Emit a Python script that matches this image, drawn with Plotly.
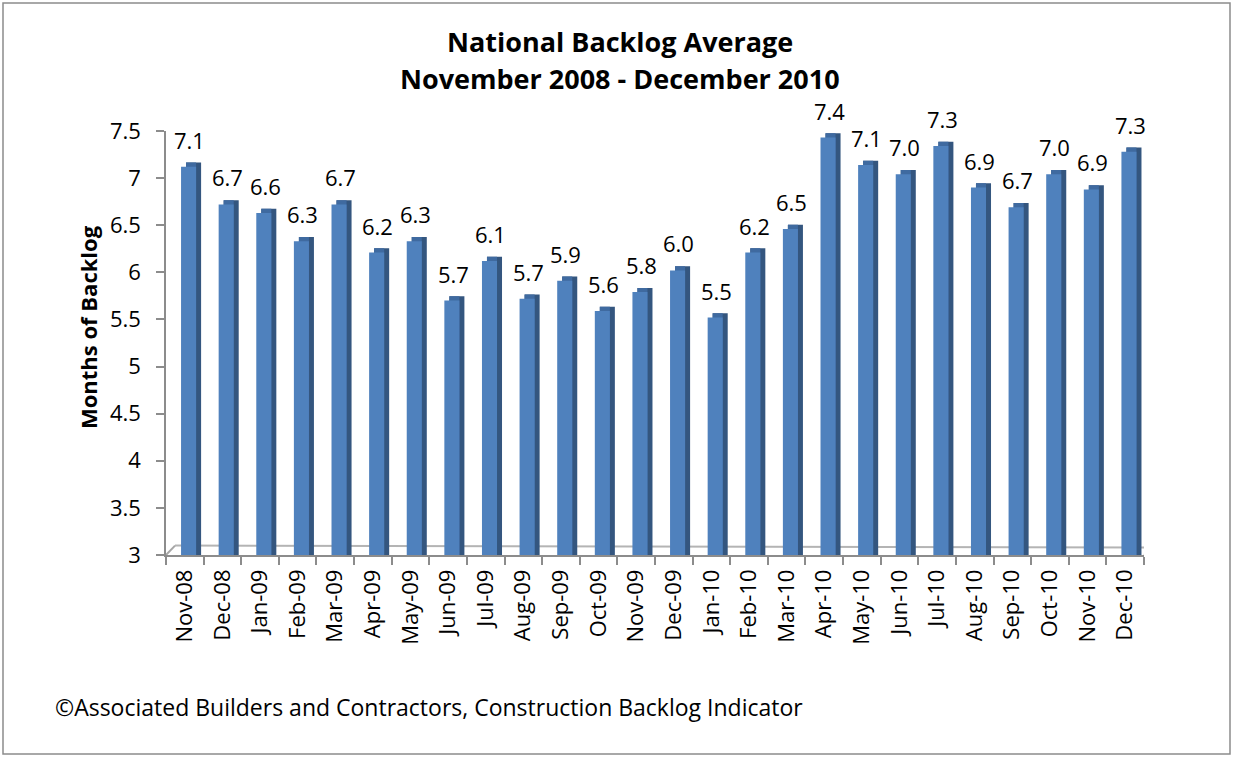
import plotly.graph_objects as go

# ---------------- data ----------------
months = ["Nov-08", "Dec-08", "Jan-09", "Feb-09", "Mar-09", "Apr-09", "May-09",
          "Jun-09", "Jul-09", "Aug-09", "Sep-09", "Oct-09", "Nov-09", "Dec-09",
          "Jan-10", "Feb-10", "Mar-10", "Apr-10", "May-10", "Jun-10", "Jul-10",
          "Aug-10", "Sep-10", "Oct-10", "Nov-10", "Dec-10"]
backlog = [7.12, 6.72, 6.63, 6.33, 6.72, 6.21, 6.33, 5.70, 6.12, 5.72, 5.91,
           5.59, 5.79, 6.02, 5.52, 6.21, 6.46, 7.43, 7.14, 7.04, 7.34, 6.90,
           6.69, 7.04, 6.88, 7.28]
y_ticks = [3, 3.5, 4, 4.5, 5, 5.5, 6, 6.5, 7, 7.5]

title_1 = "National Backlog Average"
title_2 = "November 2008 - December 2010"
y_title = "Months of Backlog"
footer = "\u00a9Associated Builders and Contractors, Construction Backlog Indicator"

# ---------------- style ----------------
FONT = "Open Sans"
FRONT = "#4f81bd"
TOPC = "#3f6aa0"
SIDE = "#34567f"
GREY = "#8c8c8c"
DEPTH = 0.045  # pseudo-3D depth in y units

# pixel layout
W, H = 1233, 757
L, R, T, B = 166, 89, 131, 202
PW, PH = W - L - R, H - T - B


def px(xp):
    return (xp - L) / PW


def py(yp):
    return (H - B - yp) / PH


fig = go.Figure()

# side face (back box)
fig.add_trace(go.Bar(x=months, y=[v + DEPTH for v in backlog], offset=0.033, width=0.4,
                     marker=dict(color=SIDE, line=dict(width=0)), hoverinfo="skip"))
# top face
fig.add_trace(go.Bar(x=months, y=[v + DEPTH for v in backlog], offset=0.033, width=0.267,
                     marker=dict(color=TOPC, line=dict(width=0)), hoverinfo="skip"))
# front face
fig.add_trace(go.Bar(x=months, y=backlog, offset=-0.1, width=0.4,
                     marker=dict(color=FRONT, line=dict(width=0)), name="Backlog"))

annotations = []
for m, v in zip(months, backlog):
    annotations.append(dict(x=m, y=v, xref="x", yref="y", text=f"{v:.1f}",
                            showarrow=False, xshift=5, yshift=27, yanchor="middle",
                            font=dict(family=FONT, size=22, color="black")))

annotations += [
    dict(x=px(620), y=py(41), xref="paper", yref="paper", text=f"<b>{title_1}</b>",
         showarrow=False, xanchor="center", yanchor="middle",
         font=dict(family=FONT, size=27, color="black")),
    dict(x=px(620), y=py(78), xref="paper", yref="paper", text=f"<b>{title_2}</b>",
         showarrow=False, xanchor="center", yanchor="middle",
         font=dict(family=FONT, size=27, color="black")),
    dict(x=px(88), y=py(327), xref="paper", yref="paper", text=f"<b>{y_title}</b>",
         showarrow=False, textangle=-90, xanchor="center", yanchor="middle",
         font=dict(family=FONT, size=22, color="black")),
    dict(x=px(53), y=py(707), xref="paper", yref="paper", text=footer,
         showarrow=False, xanchor="left", yanchor="middle",
         font=dict(family=FONT, size=23, color="black")),
]

n = len(months)
shapes = [
    # outer frame
    dict(type="rect", xref="paper", yref="paper", x0=px(3), x1=px(1230), y0=py(754), y1=py(3),
         line=dict(color=GREY, width=1.5), layer="below"),
    # floor (pseudo-3D)
    dict(type="line", xref="x", yref="y", x0=-0.5, y0=3, x1=-0.26, y1=3.1,
         line=dict(color="#a6a6a6", width=2), layer="below"),
    dict(type="line", xref="x", yref="y", x0=-0.26, y0=3.1, x1=n - 0.5 + 0.37, y1=3.08,
         line=dict(color="#b4b4b4", width=2), layer="below"),
    dict(type="line", xref="x", yref="y", x0=n - 0.5, y0=3, x1=n - 0.5 + 0.37, y1=3.08,
         line=dict(color="#a6a6a6", width=2), layer="below"),
]

fig.update_layout(
    width=W, height=H,
    margin=dict(l=L, r=R, t=T, b=B, pad=0),
    paper_bgcolor="white", plot_bgcolor="white",
    barmode="overlay", showlegend=False,
    font=dict(family=FONT, color="black"),
    annotations=annotations, shapes=shapes,
    xaxis=dict(type="category", range=[-0.5, n - 0.5], showline=True, linecolor=GREY,
               linewidth=1.5, ticks="outside", tickson="boundaries", ticklen=8,
               tickcolor=GREY, tickwidth=1.5, tickangle=-90, showgrid=False,
               ticklabelstandoff=4,
               tickfont=dict(family=FONT, size=22, color="black")),
    yaxis=dict(range=[3, 7.5], tickvals=y_ticks, showline=True, linecolor=GREY,
               linewidth=1.5, ticks="outside", ticklen=8, tickcolor=GREY, tickwidth=1.5,
               showgrid=False, zeroline=False, ticklabelstandoff=11,
               tickfont=dict(family=FONT, size=22, color="black")),
)

fig.write_html("out.html", config={"displayModeBar": False},
               post_script="document.body.style.margin='0';")
